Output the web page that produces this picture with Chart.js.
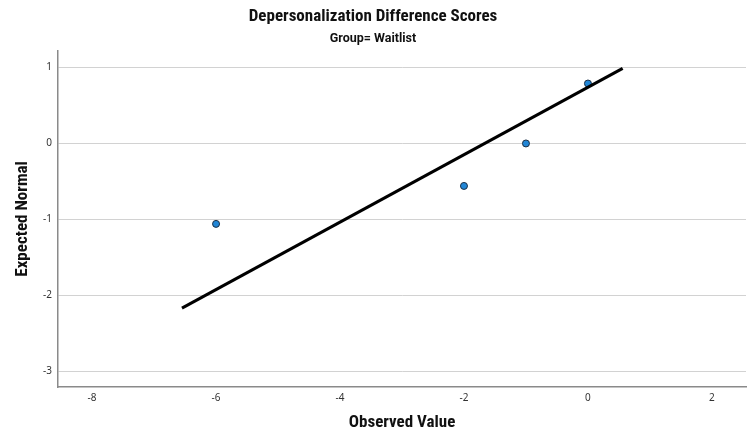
<!DOCTYPE html>
<html>
<head>
<meta charset="utf-8">
<script src="https://cdn.jsdelivr.net/npm/chart.js@4/dist/chart.umd.min.js"></script>
<style>
  body { margin: 0; background: #ffffff; }
  #grafico { display: block; }
</style>
</head>
<body>
<canvas id="grafico" width="754" height="436"></canvas>
<script>
// valores (Q-Q normal, grupo Waitlist)
var valoresObservados = [-6, -2, -1, 0];
var normalEsperado = [-1.06, -0.56, 0, 0.79];

// linha de referencia (extremos)
var linhaX = [-6.55, 0.56];
var linhaY = [-2.17, 0.99];

var ticksX = [-8, -6, -4, -2, 0, 2];
var ticksY = [-3, -2, -1, 0, 1];

var fonteTitulo = "'Roboto Condensed', 'Liberation Sans Narrow', 'Liberation Sans', sans-serif";
var fonteSub = "Roboto, 'Liberation Sans', sans-serif";
var fonteTicks = "'Noto Sans', 'Liberation Sans', sans-serif";

var pontos = [];
for (let i = 0; i < valoresObservados.length; i++) {
    pontos.push({x: valoresObservados[i], y: normalEsperado[i]});
}
var linha = [];
for (let i = 0; i < linhaX.length; i++) {
    linha.push({x: linhaX[i], y: linhaY[i]});
}

var ctx = document.getElementById("grafico").getContext("2d");

new Chart(ctx, {
    type: "scatter",
    data: {
        datasets: [{
            label: "Linha",
            data: linha,
            showLine: true,
            borderColor: "#000000",
            borderWidth: 3,
            pointRadius: 0,
            fill: false
        }, {
            label: "Observado",
            data: pontos,
            backgroundColor: "#2186d6",
            borderColor: "#1b2f45",
            borderWidth: 1,
            pointRadius: 3.5
        }]
    },
    options: {
        responsive: false,
        animation: false,
        layout: {
            padding: {left: 0, right: 8, top: 0, bottom: 0}
        },
        plugins: {
            legend: { display: false },
            tooltip: { enabled: false },
            title: {
                display: true,
                text: "Depersonalization Difference Scores",
                color: "#111111",
                font: { family: fonteTitulo, size: 17, weight: "bold" },
                padding: { top: 7, bottom: 2 }
            },
            subtitle: {
                display: true,
                text: "Group= Waitlist",
                color: "#111111",
                font: { family: fonteSub, size: 12.5, weight: "bold" },
                padding: { top: 2, bottom: 4.5 }
            }
        },
        scales: {
            x: {
                type: "linear",
                min: -8.55,
                max: 2.55,
                afterBuildTicks: function (scale) {
                    scale.ticks = ticksX.map(v => ({value: v}));
                },
                afterFit: function (scale) {
                    scale.height = 49;
                },
                grid: {
                    color: "rgba(0,0,0,0)",
                    drawTicks: false
                },
                border: { display: true, color: "#8a8a8a", width: 1.5 },
                ticks: {
                    color: "#333333",
                    padding: 5,
                    maxRotation: 0,
                    font: { family: fonteTicks, size: 10 }
                },
                title: {
                    display: true,
                    text: "Observed Value",
                    color: "#111111",
                    font: { family: fonteTitulo, size: 17, weight: "bold" },
                    padding: { top: 4, bottom: 3 }
                }
            },
            y: {
                type: "linear",
                min: -3.21,
                max: 1.22,
                afterBuildTicks: function (scale) {
                    scale.ticks = ticksY.map(v => ({value: v}));
                },
                afterFit: function (scale) {
                    scale.width = 58;
                },
                grid: {
                    color: "#d2d2d2",
                    lineWidth: 1,
                    drawTicks: false
                },
                border: { display: true, color: "#8a8a8a", width: 1.5 },
                ticks: {
                    color: "#333333",
                    padding: 6,
                    font: { family: fonteTicks, size: 10 }
                },
                title: {
                    display: true,
                    text: "Expected Normal",
                    color: "#111111",
                    font: { family: fonteTitulo, size: 17, weight: "bold" },
                    padding: { top: 13, bottom: 4 }
                }
            }
        }
    }
});
</script>
</body>
</html>
